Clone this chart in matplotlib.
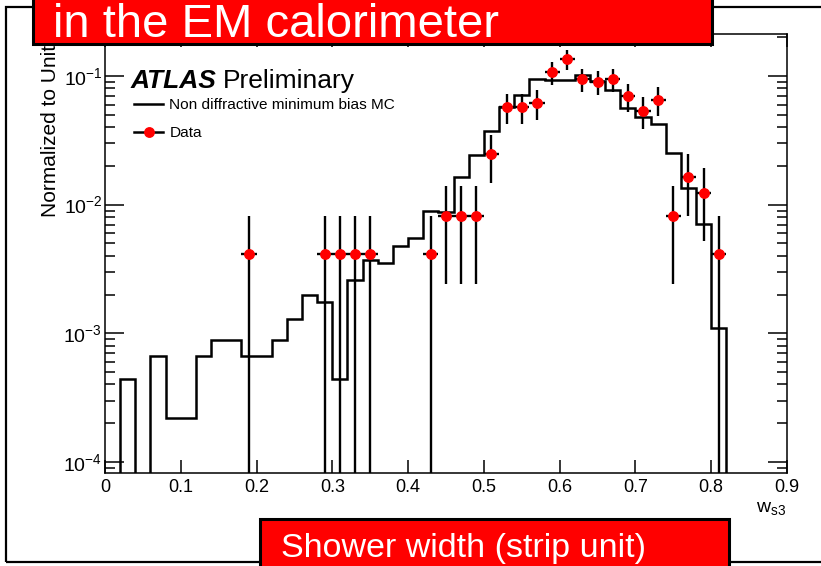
import numpy as np
import matplotlib
matplotlib.use("Agg")
import matplotlib.pyplot as plt
from matplotlib.patches import Rectangle
from matplotlib.lines import Line2D
from matplotlib.ticker import LogLocator, FixedLocator, NullLocator, LogFormatterSciNotation

plt.rcParams['font.family'] = ['Liberation Sans', 'DejaVu Sans']
plt.rcParams['mathtext.fontset'] = 'custom'
plt.rcParams['mathtext.rm'] = 'Liberation Sans'
plt.rcParams['mathtext.it'] = 'Liberation Sans:italic'
plt.rcParams['mathtext.bf'] = 'Liberation Sans:bold'

# ---- histogram binning (w_s3, 45 bins of 0.02) ----
bin_lo = 0.0
bin_hi = 0.9
n_bins = 45
edges = np.linspace(bin_lo, bin_hi, n_bins + 1)

# Non diffractive minimum bias MC, normalized to unity
mc_values = [0.0, 4.4e-4, 0.0, 6.6e-4, 2.2e-4, 2.2e-4, 6.6e-4, 8.8e-4, 8.8e-4,
             6.6e-4, 6.6e-4, 8.8e-4, 1.3e-3, 2.0e-3, 1.75e-3, 4.4e-4, 2.6e-3,
             3.7e-3, 3.5e-3, 4.8e-3, 5.5e-3, 9.0e-3, 8.8e-3, 1.63e-2, 2.45e-2,
             3.75e-2, 5.7e-2, 7.1e-2, 9.5e-2, 9.3e-2, 9.3e-2, 0.102, 9.1e-2,
             7.8e-2, 5.6e-2, 4.8e-2, 4.2e-2, 2.5e-2, 1.34e-2, 7.1e-3, 1.09e-3,
             0.0, 0.0, 0.0, 0.0]

# Data, normalized to unity (bin centres, values, statistical errors)
data_x = [0.19, 0.29, 0.31, 0.33, 0.35, 0.43, 0.45, 0.47, 0.49, 0.51, 0.53,
          0.55, 0.57, 0.59, 0.61, 0.63, 0.65, 0.67, 0.69, 0.71, 0.73, 0.75,
          0.77, 0.79, 0.81]
data_y = [4.1e-3, 4.1e-3, 4.1e-3, 4.1e-3, 4.1e-3, 4.1e-3, 8.2e-3, 8.2e-3,
          8.2e-3, 2.46e-2, 5.74e-2, 5.74e-2, 6.15e-2, 0.1066, 0.1352, 9.43e-2,
          9.02e-2, 9.43e-2, 6.97e-2, 5.33e-2, 6.56e-2, 8.2e-3, 1.64e-2,
          1.23e-2, 4.1e-3]
data_err = [4.1e-3, 4.1e-3, 4.1e-3, 4.1e-3, 4.1e-3, 4.1e-3, 5.8e-3, 5.8e-3,
            5.8e-3, 1.0e-2, 1.53e-2, 1.53e-2, 1.59e-2, 2.09e-2, 2.35e-2,
            1.97e-2, 1.92e-2, 1.97e-2, 1.69e-2, 1.48e-2, 1.64e-2, 5.8e-3,
            8.2e-3, 7.1e-3, 4.1e-3]
data_xerr = 0.01

x_ticks = [0, 0.1, 0.2, 0.3, 0.4, 0.5, 0.6, 0.7, 0.8, 0.9]
x_ticklabels = ['0', '0.1', '0.2', '0.3', '0.4', '0.5', '0.6', '0.7', '0.8', '0.9']

W, H = 821, 566
fig = plt.figure(figsize=(W / 100, H / 100), dpi=100)
fig.patch.set_facecolor('white')


def fx(px):
    return px / W


def fy(py):
    return 1 - py / H


ax_l, ax_r, ax_t, ax_b = 105, 787, 33.5, 473
ax = fig.add_axes([fx(ax_l), fy(ax_b), fx(ax_r - ax_l), (ax_b - ax_t) / H])
ax.set_yscale('log', nonpositive='clip')
ax.set_xlim(bin_lo, bin_hi)
ax.set_ylim(8.2e-5, 0.214)

# MC histogram outline
ax.stairs(mc_values, edges, baseline=None, color='black', linewidth=1.8, zorder=2)

# Data points with error bars
ax.errorbar(data_x, data_y, yerr=data_err, xerr=data_xerr, fmt='o',
            color='red', markersize=6.8, markeredgecolor='red',
            ecolor='black', elinewidth=1.7, capsize=0, zorder=3)

# axes styling
for sp in ax.spines.values():
    sp.set_linewidth(1.1)
ax.xaxis.set_major_locator(FixedLocator(x_ticks))
ax.set_xticklabels(x_ticklabels)
ax.xaxis.set_minor_locator(NullLocator())
ax.yaxis.set_major_locator(LogLocator(base=10, numticks=10))
ax.yaxis.set_minor_locator(LogLocator(base=10, subs=np.arange(2, 10), numticks=20))
ax.yaxis.set_major_formatter(LogFormatterSciNotation())
ax.tick_params(which='both', direction='in', top=True, right=True, width=1.1)
ax.tick_params(axis='x', which='major', length=9.5, pad=4, labelsize=13)
ax.tick_params(axis='y', which='major', length=14, pad=2, labelsize=14)
ax.tick_params(axis='y', which='minor', length=7)

# ATLAS label and legend
fig.text(fx(131), fy(88), 'ATLAS', fontsize=19, fontweight='bold',
         fontstyle='italic', va='baseline', ha='left')
fig.text(fx(223), fy(88), 'Preliminary', fontsize=19, va='baseline', ha='left')

h_mc = Line2D([], [], color='black', linewidth=1.8)
h_data = Line2D([], [], color='black', linewidth=1.8, marker='o',
                markersize=6.8, markerfacecolor='red', markeredgecolor='red')
leg = ax.legend([h_mc, h_data], ['Non diffractive minimum bias MC', 'Data'],
                loc='upper left', bbox_to_anchor=(fx(134), fy(98)),
                bbox_transform=fig.transFigure, frameon=False, fontsize=11.1,
                handlelength=1.9, handletextpad=0.4, labelspacing=0.92,
                borderpad=0, borderaxespad=0)

# axis titles
fig.text(fx(50), fy(217), 'Normalized to Unity', rotation=90, ha='center',
         va='bottom', fontsize=15)
fig.text(fx(786), fy(512), r'$\mathdefault{w_{s3}}$', ha='right',
         va='baseline', fontsize=14)

# slide frame and red caption boxes
fig.add_artist(Rectangle((fx(6), fy(562)), fx(900), (562 - 7) / H,
                         transform=fig.transFigure, facecolor='none',
                         edgecolor='black', linewidth=1.6, zorder=5))
fig.add_artist(Rectangle((fx(33), fy(44)), fx(712 - 33), 60 / H,
                         transform=fig.transFigure, facecolor='#ff0000',
                         edgecolor='black', linewidth=2.2, zorder=6))
fig.text(fx(53), fy(37), 'in the EM calorimeter', color='white', fontsize=34,
         ha='left', va='baseline', zorder=7)
fig.add_artist(Rectangle((fx(260), fy(600)), fx(729 - 260), (600 - 519) / H,
                         transform=fig.transFigure, facecolor='#ff0000',
                         edgecolor='black', linewidth=2.2, zorder=6))
fig.text(fx(281), fy(557.5), 'Shower width (strip unit)', color='white',
         fontsize=24.5, ha='left', va='baseline', zorder=7)

fig.savefig('out.png', dpi=100)
